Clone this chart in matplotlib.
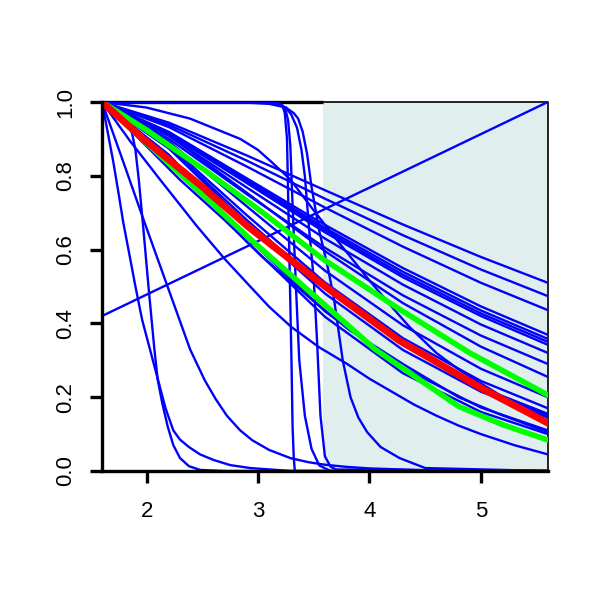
import matplotlib
matplotlib.use("Agg")
import matplotlib.pyplot as plt
from matplotlib.patches import Rectangle

plt.rcParams['font.family'] = ['Liberation Sans', 'DejaVu Sans']

# ── data ──────────────────────────────────────────────────────────
x_ticks = [2, 3, 4, 5]
y_ticks = [0.0, 0.2, 0.4, 0.6, 0.8, 1.0]
shade_from = 3.58

# straight rising line
rise_x = [1.6, 5.6]
rise_y = [0.42, 1.0]

# slowly falling fan of curves, all sampled on the same x grid
fan_x = [1.6, 2.2, 2.9, 3.6, 4.3, 5.0, 5.6]
fan_y = [
    [1, 0.944, 0.855, 0.761, 0.668, 0.580, 0.510],
    [1, 0.938, 0.841, 0.738, 0.639, 0.546, 0.474],
    [1, 0.932, 0.825, 0.714, 0.608, 0.510, 0.436],
    [1, 0.919, 0.793, 0.667, 0.550, 0.446, 0.369],
    [1, 0.917, 0.788, 0.659, 0.540, 0.435, 0.358],
    [1, 0.915, 0.784, 0.653, 0.532, 0.427, 0.350],
    [1, 0.913, 0.780, 0.647, 0.525, 0.420, 0.342],
    [1, 0.908, 0.768, 0.630, 0.505, 0.397, 0.320],
    [1, 0.900, 0.750, 0.605, 0.476, 0.367, 0.290],
    [1, 0.909, 0.754, 0.596, 0.455, 0.337, 0.255],
    [1, 0.893, 0.717, 0.543, 0.395, 0.277, 0.200],
    [1, 0.883, 0.693, 0.511, 0.360, 0.244, 0.170],
    [1, 0.878, 0.680, 0.494, 0.341, 0.226, 0.155],
    [1, 0.874, 0.670, 0.481, 0.328, 0.215, 0.145],
    [1, 0.857, 0.633, 0.433, 0.280, 0.172, 0.110],
    [1, 0.851, 0.621, 0.418, 0.265, 0.160, 0.100],
]

# faster curves, each with its own x samples
fast_x = [1.6, 1.65, 1.7, 1.75, 1.79, 1.85, 1.9, 1.96, 2.03, 2.1, 2.17, 2.24, 2.3, 2.38, 2.48, 2.6, 2.75, 2.93, 3.3, 5.6]
fast_y = [1, 0.92, 0.84, 0.75, 0.675, 0.58, 0.5, 0.41, 0.33, 0.25, 0.17, 0.11, 0.085, 0.065, 0.045, 0.03, 0.016, 0.008, 0.0, 0.0]

early_step_x = [1.6, 1.7, 1.8, 1.84, 1.87, 1.9, 1.93, 1.97, 2.02, 2.07, 2.1, 2.14, 2.19, 2.24, 2.3, 2.38, 2.48, 2.7, 5.6]
early_step_y = [1, 0.97, 0.945, 0.935, 0.915, 0.87, 0.79, 0.66, 0.49, 0.33, 0.247, 0.185, 0.12, 0.07, 0.035, 0.013, 0.003, 0, 0]

medium_x = [1.6, 1.8, 1.98, 2.2, 2.39, 2.52, 2.62, 2.72, 2.84, 2.95, 3.1, 3.29, 3.45, 3.6, 3.8, 4.0, 4.5, 5.6]
medium_y = [1, 0.83, 0.675, 0.49, 0.33, 0.247, 0.195, 0.15, 0.11, 0.083, 0.057, 0.035, 0.024, 0.017, 0.011, 0.007, 0.002, 0]

tail_x = [1.6, 1.85, 2.12, 2.45, 2.7, 2.93, 3.1, 3.3, 3.55, 3.8, 4.0, 4.2, 4.4, 4.6, 4.8, 5.0, 5.3, 5.6]
tail_y = [1, 0.895, 0.79, 0.664, 0.575, 0.50, 0.445, 0.39, 0.335, 0.29, 0.25, 0.215, 0.18, 0.15, 0.123, 0.1, 0.07, 0.045]

below_x = [1.6, 2.0, 2.3, 2.7, 3.04, 3.5, 3.82, 4.3, 4.8, 5.2, 5.6]
below_y = [1, 0.88, 0.789, 0.68, 0.58, 0.46, 0.382, 0.29, 0.2, 0.15, 0.105]

top_x = [1.6, 2.0, 2.39, 2.84, 3.0, 3.13, 3.29, 3.49, 3.75, 3.99, 4.2, 4.36, 4.6, 4.8, 5.2, 5.6]
top_y = [1, 0.985, 0.955, 0.9, 0.87, 0.835, 0.79, 0.71, 0.61, 0.52, 0.445, 0.39, 0.32, 0.275, 0.2, 0.15]

step1_x = [1.6, 3.1, 3.18, 3.22, 3.24, 3.26, 3.28, 3.3, 3.31, 3.32, 3.33, 5.6]
step1_y = [1, 1, 0.997, 0.99, 0.97, 0.9, 0.6, 0.3, 0.12, 0.04, 0, 0]

step2_x = [1.6, 3.1, 3.18, 3.22, 3.25, 3.27, 3.29, 3.31, 3.34, 3.37, 3.42, 3.48, 3.55, 3.65, 5.6]
step2_y = [1, 1, 0.997, 0.99, 0.975, 0.95, 0.88, 0.72, 0.5, 0.3, 0.15, 0.06, 0.015, 0, 0]

step3_x = [1.6, 3.0, 3.15, 3.25, 3.3, 3.35, 3.39, 3.42, 3.46, 3.5, 3.53, 3.56, 3.6, 3.65, 3.7, 5.6]
step3_y = [1, 1, 0.997, 0.985, 0.965, 0.93, 0.87, 0.8, 0.65, 0.52, 0.35, 0.15, 0.04, 0.012, 0.004, 0]

step4_x = [1.6, 2.8, 3.1, 3.25, 3.32, 3.36, 3.4, 3.44, 3.48, 3.55, 3.62, 3.68, 3.76, 3.83, 3.9, 3.98, 4.1, 4.27, 4.5, 5.6]
step4_y = [1, 1, 0.995, 0.985, 0.97, 0.955, 0.92, 0.86, 0.77, 0.65, 0.56, 0.47, 0.3, 0.2, 0.145, 0.105, 0.065, 0.035, 0.008, 0]

# highlighted curves
red_x = [1.6, 1.97, 2.5, 2.915, 3.58, 4.26, 5.0, 5.6]
red_y = [1.0, 0.90, 0.77, 0.661, 0.505, 0.355, 0.225, 0.13]

green_hi_x = [1.6, 2.0, 2.5, 3.0, 3.58, 4.24, 4.9, 5.6]
green_hi_y = [1, 0.924, 0.82, 0.71, 0.575, 0.444, 0.32, 0.206]

green_lo_x = [1.6, 2.0, 2.5, 2.91, 3.58, 4.05, 4.8, 5.2, 5.6]
green_lo_y = [1, 0.889, 0.75, 0.634, 0.455, 0.33, 0.175, 0.125, 0.084]

# ── figure ─────────────────────────────────────────────────────────
fig = plt.figure(figsize=(6, 6), dpi=100)
ax = fig.add_axes([0.17, 0.215, 0.743, 0.615])
ax.set_xlim(1.6, 5.6)
ax.set_ylim(0, 1)

ax.add_patch(Rectangle((shade_from, 0), 5.6 - shade_from, 1,
                       facecolor='#e0eeee', edgecolor='none', zorder=1))
# box: thick segment over the white part, thin over the shaded part
ax.plot([1.6, shade_from], [1, 1], color='black', linewidth=2.4, zorder=2,
        clip_on=False, solid_capstyle='butt')
ax.plot([shade_from, 5.6, 5.6], [1, 1, 0], color='black', linewidth=1.2,
        zorder=2, clip_on=False)

blue = '#0000ff'
lw_blue = 1.7
ax.plot(rise_x, rise_y, color=blue, linewidth=lw_blue, zorder=3)
for row in fan_y:
    ax.plot(fan_x, row, color=blue, linewidth=lw_blue, zorder=3)
for xs, ys in [(fast_x, fast_y), (early_step_x, early_step_y),
               (medium_x, medium_y), (tail_x, tail_y), (below_x, below_y),
               (top_x, top_y), (step1_x, step1_y), (step2_x, step2_y),
               (step3_x, step3_y), (step4_x, step4_y)]:
    ax.plot(xs, ys, color=blue, linewidth=lw_blue, zorder=3)

ax.plot(green_hi_x, green_hi_y, color='#00ff00', linewidth=4, zorder=4)
ax.plot(green_lo_x, green_lo_y, color='#00ff00', linewidth=4, zorder=4)
ax.plot(red_x, red_y, color='#ff0000', linewidth=5, zorder=5)

for side in ['top', 'right']:
    ax.spines[side].set_visible(False)
for side in ['left', 'bottom']:
    ax.spines[side].set_linewidth(2.4)
    ax.spines[side].set_zorder(6)

ax.set_xticks(x_ticks)
ax.set_yticks(y_ticks)
ax.set_yticklabels([f"{v:.1f}" for v in y_ticks], rotation=90, va='center')
ax.tick_params(axis='both', length=8.5, width=2.4, labelsize=16)
ax.tick_params(axis='x', pad=13)
ax.tick_params(axis='y', pad=10)

fig.savefig("out.png", dpi=100)
